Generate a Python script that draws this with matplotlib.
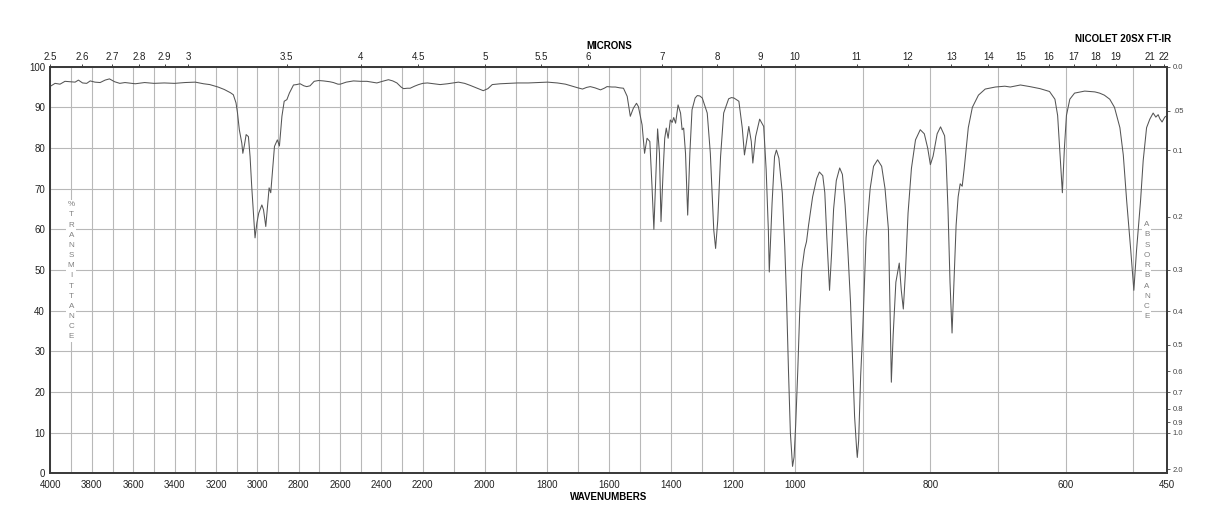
"""
IR spectrum (Nicolet 20SX FT-IR): %T vs wavenumber, split wavenumber axis,
microns on top and absorbance on the right.
"""
import numpy as np
import matplotlib
matplotlib.use("Agg")
import matplotlib.pyplot as plt

plt.rcParams["font.family"] = ["Liberation Sans", "DejaVu Sans"]

# spectrum (cm-1, %T)
wn = [4000, 3978, 3954, 3930, 3906, 3881, 3865, 3845, 3825, 3808, 3785, 3760,
      3736, 3715, 3690, 3665, 3640, 3590, 3545, 3500, 3450, 3400, 3350, 3300,
      3260, 3230, 3190, 3160, 3130, 3116, 3103, 3096, 3087, 3075, 3070, 3062,
      3054, 3043, 3035, 3027, 3019, 3011, 3002, 2993, 2978, 2970, 2959, 2949,
      2943, 2935, 2925, 2917, 2903, 2893, 2881, 2870, 2857, 2845, 2825, 2810,
      2793, 2775, 2761, 2745, 2725, 2704, 2680, 2650, 2632, 2610, 2599, 2570,
      2535, 2500, 2470, 2445, 2422, 2395, 2366, 2345, 2325, 2305, 2293, 2275,
      2261, 2240, 2220, 2200,
      2185, 2165, 2144, 2120, 2102, 2085, 2065, 2047, 2024, 2005, 1990, 1976,
      1950, 1920, 1895, 1860, 1830, 1798, 1780, 1766, 1740, 1714, 1700, 1685,
      1672, 1660, 1645, 1627, 1615, 1606, 1590, 1579, 1565, 1553, 1541, 1531,
      1521, 1511, 1505, 1493, 1485, 1477, 1468, 1461, 1455, 1450, 1443, 1437,
      1432, 1425, 1420, 1415, 1409, 1402, 1396, 1391, 1385, 1377, 1369, 1364,
      1359, 1353, 1346, 1339, 1332, 1322, 1315, 1307, 1299, 1283, 1273, 1262,
      1256, 1249, 1240, 1230, 1214, 1205, 1197, 1181, 1170, 1163, 1157, 1149,
      1141, 1136, 1127, 1114, 1101, 1093, 1086, 1083, 1074, 1066, 1060, 1052,
      1041, 1033, 1027, 1021, 1015, 1008,
      1003, 999, 996, 993, 990, 986, 983, 980, 974, 968, 964, 959, 956, 953,
      949, 946, 943, 939, 934, 930, 926, 922, 918, 915, 912, 909, 908, 906,
      903, 900, 895, 889, 884, 878, 872, 867, 862, 859, 857.7, 855, 851, 846,
      843, 840, 837, 833, 828, 822, 815, 809, 804, 800, 796, 790, 785, 779,
      777, 774, 771, 768, 765, 762, 759, 756, 753, 750, 744, 738, 729, 719,
      704, 690, 682, 667, 653, 638, 624, 616, 612, 609, 606, 605, 602, 599,
      594, 587, 572, 557, 550, 543, 535, 528, 520, 515, 510, 504, 499.4,
      495.4, 489.5, 485.6, 480.6, 475.8, 470.9, 466.9, 463.5, 461, 457.7,
      453.7, 450]
trans = [95.2, 95.9, 95.7, 96.4, 96.3, 96.2, 96.7, 96.0, 95.9, 96.5, 96.2, 96.1,
         96.7, 97.0, 96.3, 95.9, 96.1, 95.8, 96.1, 95.9, 96.0, 95.9, 96.1, 96.2,
         95.8, 95.6, 95.0, 94.4, 93.6, 93.1, 91.1, 88.7, 84.5, 81.2, 78.7, 80.8,
         83.3, 82.8, 77.9, 70.5, 64.0, 57.9, 61.6, 64.0, 66.0, 64.8, 60.7, 66.5,
         70.2, 69.0, 75.5, 80.4, 82.0, 80.5, 87.8, 91.5, 91.9, 93.5, 95.5, 95.6,
         95.8, 95.3, 95.1, 95.3, 96.4, 96.6, 96.5, 96.3, 96.1, 95.7, 95.7, 96.2,
         96.5, 96.4, 96.4, 96.2, 96.0, 96.4, 96.8, 96.5, 96.0, 95.0, 94.6, 94.7,
         94.7, 95.2, 95.6, 95.9,
         96.0, 95.8, 95.6, 95.8, 96.0, 96.2, 95.9, 95.4, 94.7, 94.1, 94.6, 95.6,
         95.8, 95.9, 96.0, 96.0, 96.1, 96.2, 96.1, 96.0, 95.7, 95.1, 94.8, 94.5,
         94.9, 95.1, 94.8, 94.3, 94.7, 95.1, 95.0, 95.0, 94.8, 94.7, 92.7, 87.8,
         89.8, 91.0, 90.2, 85.7, 78.7, 82.4, 81.6, 70.5, 60.0, 70.5, 84.7, 78.7,
         61.9, 74.6, 82.4, 84.9, 82.4, 86.9, 86.3, 87.5, 86.1, 90.6, 88.6, 84.5,
         84.9, 78.7, 63.5, 78.7, 89.4, 92.3, 92.9, 92.8, 92.3, 88.6, 78.7, 59.9,
         55.3, 62.3, 77.9, 88.6, 92.1, 92.4, 92.3, 91.5, 84.9, 78.3, 81.2, 85.3,
         81.6, 76.3, 82.8, 87.1, 85.3, 74.6, 59.9, 49.5, 66.4, 77.9, 79.5, 77.5,
         68.9, 55.7, 42.0, 25.0, 10.0, 1.7,
         4.0, 12.0, 25.0, 40.0, 50.0, 55.0, 57.0, 61.0, 68.0, 72.5, 74.1, 73.2,
         69.0, 58.0, 45.0, 54.0, 65.0, 72.0, 75.1, 73.5, 66.0, 55.0, 42.0, 28.0,
         14.0, 6.0, 3.9, 8.0, 24.0, 35.0, 58.0, 70.0, 75.5, 77.1, 75.5, 70.0,
         60.0, 35.0, 22.4, 34.0, 47.0, 51.7, 45.0, 40.4, 49.0, 64.0, 75.0, 82.0,
         84.5, 83.5, 80.0, 75.9, 78.0, 83.5, 85.2, 83.0, 78.0, 65.0, 47.0, 34.5,
         48.0, 61.0, 68.0, 71.2, 70.6, 75.0, 85.0, 90.0, 93.0, 94.5, 95.0, 95.2,
         95.0, 95.5, 95.1, 94.6, 93.9, 92.0, 88.0, 80.0, 72.0, 69.0, 80.0, 88.0,
         92.0, 93.5, 94.0, 93.8, 93.5, 93.0, 92.0, 90.0, 85.0, 78.3, 67.0, 54.9,
         45.0, 54.9, 67.0, 76.9, 85.0, 87.1, 88.6, 87.6, 88.2, 87.2, 86.4, 87.6,
         88.0]

# axis breaks: 4000-2200, 2200-1000 and 1000-450 each take a third of the width
WN_BRK = [450, 1000, 2200, 4000]
WN_TICKS = [4000, 3800, 3600, 3400, 3200, 3000, 2800, 2600, 2400, 2200, 2000,
            1800, 1600, 1400, 1200, 1000, 800, 600, 450]
WN_GRID = list(range(500, 4000, 100))
MICRONS = [2.5, 2.6, 2.7, 2.8, 2.9, 3, 3.5, 4, 4.5, 5, 5.5, 6, 7, 8, 9, 10,
           11, 12, 13, 14, 15, 16, 17, 18, 19, 21, 22]
ABS = [0.0, 0.05, 0.1, 0.2, 0.3, 0.4, 0.5, 0.6, 0.7, 0.8, 0.9, 1.0, 2.0]
ABS_LBL = ["0.0", ".05", "0.1", "0.2", "0.3", "0.4", "0.5", "0.6", "0.7",
           "0.8", "0.9", "1.0", "2.0"]


def fwd(w):
    return np.interp(w, WN_BRK, [0, 1, 2, 3])


def inv(u):
    return np.interp(u, [0, 1, 2, 3], WN_BRK)


def mlabel(m):
    return ("%g" % m)


fig = plt.figure(figsize=(12.18, 5.28), dpi=100)
ax = fig.add_axes([0.04146, 0.1036, 0.9169, 0.7701])
ax.set_xscale("function", functions=(fwd, inv))
ax.set_xlim(4000, 450); ax.set_ylim(0, 100)
ax.set_axisbelow(True)

GRIDC = "#b8b8b8"; SPC = "#3a3a3a"
ax.set_xticks(WN_TICKS); ax.set_xticklabels([str(t) for t in WN_TICKS])
ax.set_xticks(WN_GRID, minor=True)
ax.set_yticks(range(0, 101, 10))
ax.grid(True, which="both", color=GRIDC, lw=0.8)
ax.tick_params(axis="both", which="both", length=0, labelsize=7, colors="#222")
ax.tick_params(axis="x", pad=5); ax.tick_params(axis="y", pad=4)
ax.set_xlabel("WAVENUMBERS", fontsize=7, fontweight="bold", labelpad=1)

ax.plot(wn, trans, color="#555555", lw=0.75, zorder=3)

ax.text(3900, 49.8, "\n".join("%TRANSMITTANCE"), fontsize=5.8, color="#808080",
        ha="center", va="center", linespacing=1.63, zorder=1.5,
        bbox=dict(facecolor="white", edgecolor="none", pad=1.0))
ax.text(480, 49.8, "\n".join("ABSORBANCE"), fontsize=5.8, color="#808080",
        ha="center", va="center", linespacing=1.65, zorder=1.5,
        bbox=dict(facecolor="white", edgecolor="none", pad=1.0))

# top: microns
top = ax.twiny()
top.set_xscale("function", functions=(fwd, inv))
top.set_xlim(4000, 450)
top.set_xticks([1e4 / m for m in MICRONS])
top.set_xticklabels([mlabel(m) for m in MICRONS])
top.set_xticks([], minor=True)
top.tick_params(axis="x", length=2.5, width=0.6, pad=1, labelsize=7,
                colors="#222")
top.set_xlabel("MICRONS", fontsize=7, fontweight="bold", labelpad=2)

# right: absorbance
rt = ax.twinx()
rt.set_ylim(0, 100)
rt.set_yticks([100 * 10 ** -a for a in ABS])
rt.set_yticklabels(ABS_LBL)
rt.set_yticks([], minor=True)
rt.tick_params(axis="y", length=2.5, width=0.6, pad=1.5, labelsize=5.5,
               colors="#444")

for a in (ax, top, rt):
    for s in a.spines.values():
        s.set_color(SPC); s.set_linewidth(1.1)

ax.text(1.0035, 1.055, "NICOLET 20SX FT-IR", transform=ax.transAxes,
        ha="right", va="bottom", fontsize=7, fontweight="bold")

fig.savefig("out.png", dpi=100)
